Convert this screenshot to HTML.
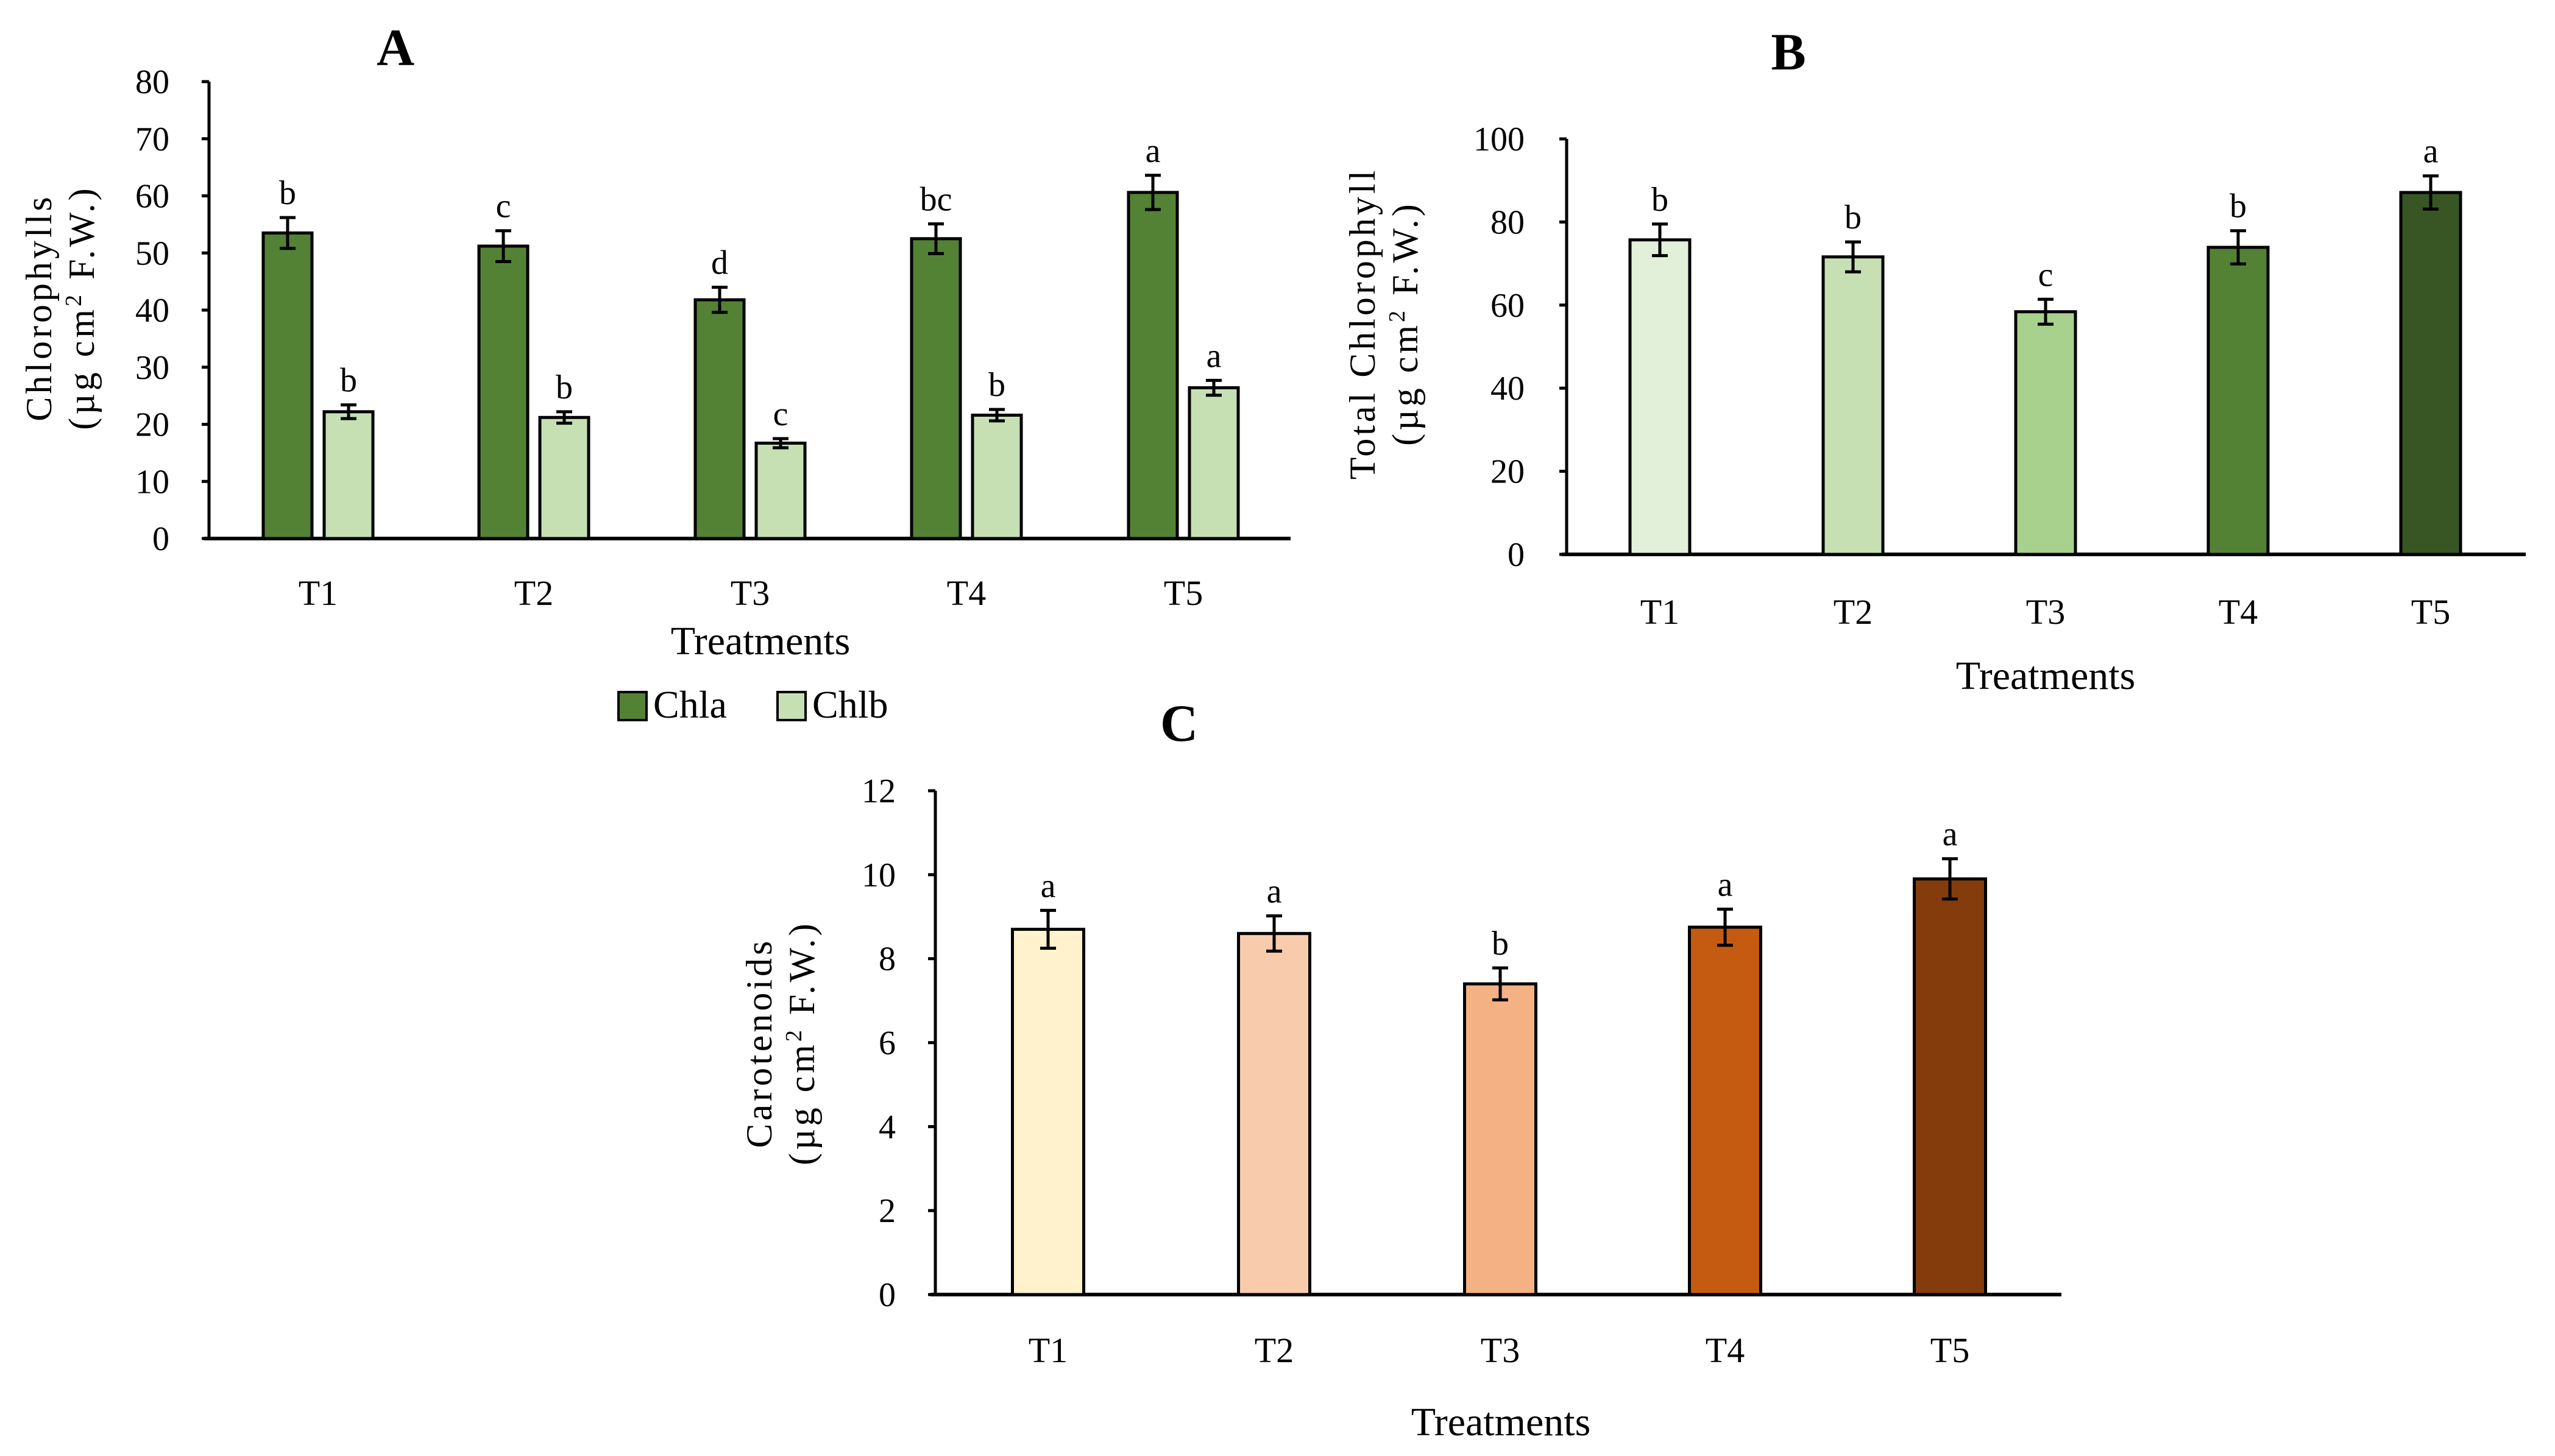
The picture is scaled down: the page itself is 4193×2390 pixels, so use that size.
<!DOCTYPE html>
<html><head><meta charset="utf-8"><style>
html,body{margin:0;padding:0;background:#fff;}
svg{display:block;font-family:"Liberation Serif",serif;}
</style></head><body>
<svg id="fig" width="4193" height="2390" viewBox="0 0 4193 2390" xmlns="http://www.w3.org/2000/svg">
<g id="pa"></g>
<g id="pb"></g>
<g id="pc"></g>
</svg>
<script>
const categories = ["T1","T2","T3","T4","T5"];
// Panel A
const chlaValues = [53.5, 51.2, 41.8, 52.5, 60.6];
const chlaErrors = [2.7, 2.7, 2.2, 2.6, 3.0];
const chlaLetters = ["b","c","d","bc","a"];
const chlbValues = [22.2, 21.2, 16.7, 21.6, 26.4];
const chlbErrors = [1.2, 1.0, 0.8, 1.0, 1.3];
const chlbLetters = ["b","b","c","b","a"];
const aTicks = [0,10,20,30,40,50,60,70,80];
// Panel B
const totalValues = [75.7, 71.6, 58.4, 73.9, 87.1];
const totalErrors = [3.8, 3.6, 3.0, 4.0, 4.0];
const totalLetters = ["b","b","c","b","a"];
const bTicks = [0,20,40,60,80,100];
// Panel C
const carValues = [8.7, 8.6, 7.4, 8.75, 9.9];
const carErrors = [0.45, 0.42, 0.38, 0.43, 0.48];
const carLetters = ["a","a","b","a","a"];
const cTicks = [0,2,4,6,8,10,12];

const NS = "http://www.w3.org/2000/svg";
function mk(parent, tag, attrs, text){
  const e = document.createElementNS(NS, tag);
  for (const k in attrs) e.setAttribute(k, attrs[k]);
  if (text !== undefined) e.textContent = text;
  parent.appendChild(e);
  return e;
}

function axes(g, cfg){
  const y = v => cfg.y0 - (v - 0) / cfg.max * (cfg.y0 - cfg.yTop);
  const ax = mk(g,'line',{x1:cfg.x0,y1:cfg.yTop,x2:cfg.x0,y2:cfg.y0,stroke:'#000','stroke-width':5});
  
  
  const bx = mk(g,'line',{x1:cfg.x0-8,y1:cfg.y0,x2:cfg.xEnd,y2:cfg.y0,stroke:'#000','stroke-width':6});
  
  
  cfg.ticks.forEach(t=>{
    const tk = mk(g,'line',{x1:cfg.x0-12,y1:y(t),x2:cfg.x0,y2:y(t),stroke:'#000','stroke-width':5});
    
    
    const tl = mk(g,'text',{x:cfg.labX,y:y(t)+19,'text-anchor':'end','font-size':56},String(t));
    
    
  });
  categories.forEach((c,i)=>{
    const cl = mk(g,'text',{x:cfg.cx[i],y:cfg.catY,'text-anchor':'middle','font-size':58},c);
    
    
  });
  const xt = mk(g,'text',{x:cfg.xtX,y:cfg.xtY,'text-anchor':'middle','font-size':66},'Treatments');
  
  
  const yt = mk(g,'text',{transform:`translate(${cfg.ytX},${cfg.ytY}) rotate(-90)`,'text-anchor':'middle','font-size':60,'letter-spacing':5});
  
  
  mk(yt,'tspan',{x:0,y:0},cfg.yt1);
  mk(yt,'tspan',{x:0,y:70},'(µg cm');
  mk(yt,'tspan',{'baseline-shift':'super','font-size':38},'2');
  mk(yt,'tspan',{},' F.W.)');
  const pt = mk(g,'text',{x:cfg.ptX,y:cfg.ptY,'text-anchor':'middle','font-size':86,'font-weight':'bold'},cfg.pt);
  
  
  return y;
}

function bars(g, y, cx, offset, w, vals, errs, letters, fills, name){
  vals.forEach((v,i)=>{
    const x = cx[i] + offset;
    const r = mk(g,'rect',{x:x-w/2,y:y(v),width:w,height:y(0)-y(v),fill:fills[i],stroke:'#000','stroke-width':5});
    
    
    const e = errs[i];
    const eb = mk(g,'path',{d:`M${x},${y(v+e)}V${y(v-e)}M${x-13},${y(v+e)}H${x+13}M${x-13},${y(v-e)}H${x+13}`,stroke:'#000','stroke-width':5,fill:'none'});
    
    
    const lt = mk(g,'text',{x:x,y:y(v+e)-22,'text-anchor':'middle','font-size':56},letters[i]);
    
    
  });
}

// Panel A
(function(){
  const g = document.getElementById('pa');
  const cx = [522,876,1231,1586,1942];
  const y = axes(g,{x0:343,y0:884,yTop:134,max:80,xEnd:2118,ticks:aTicks,labX:278,cx:cx,catY:993,
    xtX:1248,xtY:1074,ytX:84,ytY:505,yt1:'Chlorophylls',ptX:649,ptY:107,pt:'A'});
  bars(g,y,cx,-50,80,chlaValues,chlaErrors,chlaLetters,Array(5).fill('#548235'),'chla');
  bars(g,y,cx,50,80,chlbValues,chlbErrors,chlbLetters,Array(5).fill('#c6e0b4'),'chlb');
  const l1 = mk(g,'rect',{x:1015,y:1136,width:46,height:46,fill:'#548235',stroke:'#000','stroke-width':4});
  
  
  const l1t = mk(g,'text',{x:1072,y:1178,'font-size':64},'Chla');
  
  
  const l2 = mk(g,'rect',{x:1276,y:1136,width:46,height:46,fill:'#c6e0b4',stroke:'#000','stroke-width':4});
  
  
  const l2t = mk(g,'text',{x:1333,y:1178,'font-size':64},'Chlb');
  
  
})();

// Panel B
(function(){
  const g = document.getElementById('pb');
  const cx = [2724,3041,3357,3673,3989];
  const y = axes(g,{x0:2571,y0:910,yTop:228,max:100,xEnd:4145,ticks:bTicks,labX:2502,cx:cx,catY:1024,
    xtX:3357,xtY:1131,ytX:2256,ytY:531,yt1:'Total Chlorophyll',ptX:2935,ptY:114,pt:'B'});
  bars(g,y,cx,0,98,totalValues,totalErrors,totalLetters,['#e2efd9','#c6e0b4','#a9d18e','#548235','#375623'],'total');
})();

// Panel C
(function(){
  const g = document.getElementById('pc');
  const cx = [1720,2091,2462,2831,3200];
  const y = axes(g,{x0:1535,y0:2125,yTop:1298,max:12,xEnd:3383,ticks:cTicks,labX:1470,cx:cx,catY:2236,
    xtX:2463,xtY:2356,ytX:1266,ytY:1712,yt1:'Carotenoids',ptX:1935,ptY:1216,pt:'C'});
  bars(g,y,cx,0,117,carValues,carErrors,carLetters,['#fff2cc','#f8cbad','#f4b183','#c55a11','#843c0c'],'carotenoid');
})();
</script>
</body></html>
